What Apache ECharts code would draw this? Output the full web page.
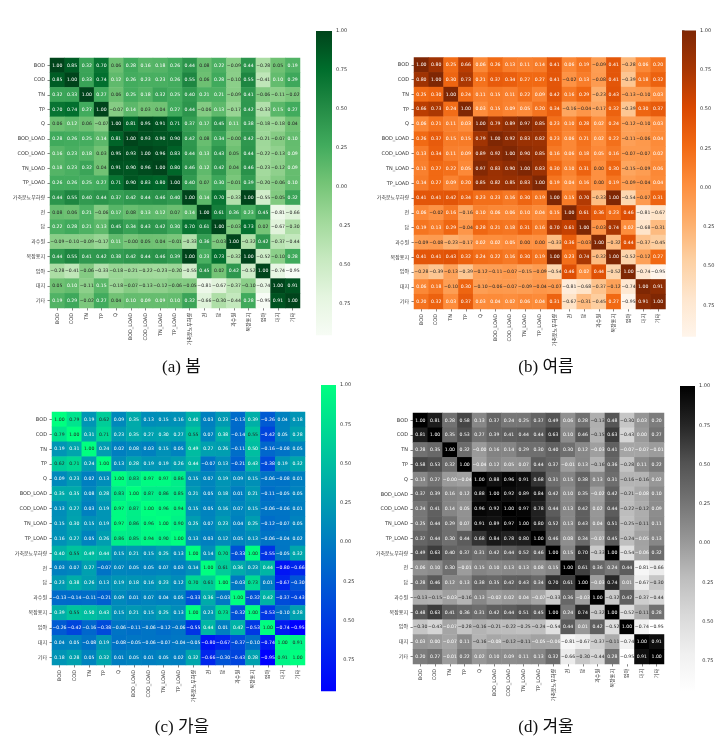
<!DOCTYPE html>
<html>
<head>
<meta charset="utf-8">
<style>html,body{margin:0;padding:0;background:#fff}#c{width:728px;height:747px}</style>
<script src="https://cdn.jsdelivr.net/npm/echarts@6/dist/echarts.min.js"></script>
</head>
<body>
<div id="c"></div>
<script>
const categories = ['BOD','COD','TN','TP','Q','BOD_LOAD','COD_LOAD','TN_LOAD','TP_LOAD','가축분뇨부하량','전','답','과수원','목장용지','임야','대지','기타'];
const colorbarTicks = ['−0.75','−0.50','−0.25','0.00','0.25','0.50','0.75','1.00'];
const captions = ['(a) 봄','(b) 여름','(c) 가을','(d) 겨울'];
const spring = [
[1.00,.85,.32,.70,.06,.28,.16,.18,.26,.44,.08,.22,-.09,.44,-.28,.05,.19],
[.85,1.00,.33,.74,.12,.26,.23,.23,.26,.55,.06,.28,-.10,.55,-.41,.10,.29],
[.32,.33,1.00,.27,.06,.25,.18,.32,.25,.40,.21,.21,-.09,.41,-.06,-.11,-.02],
[.70,.74,.27,1.00,-.07,.14,.03,.04,.27,.44,-.06,.13,-.17,.42,-.33,.15,.27],
[.06,.12,.06,-.07,1.00,.81,.95,.91,.71,.37,.17,.45,.11,.38,-.18,-.18,.04],
[.28,.26,.25,.14,.81,1.00,.93,.90,.90,.42,.08,.34,-0.00,.42,-.21,-.07,.10],
[.16,.23,.18,.03,.95,.93,1.00,.96,.83,.44,.13,.43,.05,.44,-.22,-.13,.09],
[.18,.23,.32,.04,.91,.90,.96,1.00,.80,.46,.12,.42,.04,.46,-.23,-.12,.09],
[.26,.26,.25,.27,.71,.90,.83,.80,1.00,.40,.07,.30,-.01,.39,-.20,-.06,.10],
[.44,.55,.40,.44,.37,.42,.44,.46,.40,1.00,.14,.70,-.33,1.00,-.55,-.05,.32],
[.08,.06,.21,-.06,.17,.08,.13,.12,.07,.14,1.00,.61,.36,.23,.45,-.81,-.66],
[.22,.28,.21,.13,.45,.34,.43,.42,.30,.70,.61,1.00,-.03,.73,.02,-.67,-.30],
[-.09,-.10,-.09,-.17,.11,-0.00,.05,.04,-.01,-.33,.36,-.03,1.00,-.32,.42,-.37,-.44],
[.44,.55,.41,.42,.38,.42,.44,.46,.39,1.00,.23,.73,-.32,1.00,-.52,-.10,.28],
[-.28,-.41,-.06,-.33,-.18,-.21,-.22,-.23,-.20,-.55,.45,.02,.42,-.52,1.00,-.74,-.95],
[.05,.10,-.11,.15,-.18,-.07,-.13,-.12,-.06,-.05,-.81,-.67,-.37,-.10,-.74,1.00,.91],
[.19,.29,-.02,.27,.04,.10,.09,.09,.10,.32,-.66,-.30,-.44,.28,-.95,.91,1.00]
];
const summer = [
[1.00,.80,.25,.66,.06,.26,.13,.11,.14,.41,.06,.19,-.09,.41,-.28,.06,.20],
[.80,1.00,.30,.73,.21,.37,.34,.27,.27,.41,-.02,.13,-.08,.41,-.39,.18,.32],
[.25,.30,1.00,.24,.11,.15,.11,.22,.09,.42,.16,.29,-.23,.43,-.13,-.10,.03],
[.66,.73,.24,1.00,.03,.15,.09,.05,.20,.34,-.16,-.04,-.17,.32,-.39,.30,.37],
[.06,.21,.11,.03,1.00,.79,.89,.97,.85,.23,.10,.28,.02,.24,-.12,-.10,.03],
[.26,.37,.15,.15,.79,1.00,.92,.83,.82,.23,.06,.21,.02,.22,-.11,-.06,.04],
[.13,.34,.11,.09,.89,.92,1.00,.90,.85,.16,.06,.18,.05,.16,-.07,-.07,.02],
[.11,.27,.22,.05,.97,.83,.90,1.00,.83,.30,.10,.31,.00,.30,-.15,-.09,.06],
[.14,.27,.09,.20,.85,.82,.85,.83,1.00,.19,.04,.16,.00,.19,-.09,-.04,.04],
[.41,.41,.42,.34,.23,.23,.16,.30,.19,1.00,.15,.70,-.33,1.00,-.54,-.07,.31],
[.06,-.02,.16,-.16,.10,.06,.06,.10,.04,.15,1.00,.61,.36,.23,.46,-.81,-.67],
[.19,.13,.29,-.04,.28,.21,.18,.31,.16,.70,.61,1.00,-.03,.74,.02,-.68,-.31],
[-.09,-.08,-.23,-.17,.02,.02,.05,.00,.00,-.33,.36,-.03,1.00,-.32,.44,-.37,-.45],
[.41,.41,.43,.32,.24,.22,.16,.30,.19,1.00,.23,.74,-.32,1.00,-.52,-.12,.27],
[-.28,-.39,-.13,-.39,-.12,-.11,-.07,-.15,-.09,-.54,.46,.02,.44,-.52,1.00,-.74,-.95],
[.06,.18,-.10,.30,-.10,-.06,-.07,-.09,-.04,-.07,-.81,-.68,-.37,-.12,-.74,1.00,.91],
[.20,.32,.03,.37,.03,.04,.02,.06,.04,.31,-.67,-.31,-.45,.27,-.95,.91,1.00]
];
const autumn = [
[1.00,.79,.19,.62,.09,.35,.13,.15,.16,.40,.03,.23,-.13,.39,-.26,.04,.18],
[.79,1.00,.31,.71,.23,.35,.27,.30,.27,.55,.07,.38,-.14,.55,-.42,.05,.28],
[.19,.31,1.00,.24,.02,.08,.03,.15,.05,.49,.27,.26,-.11,.50,-.16,-.08,.05],
[.62,.71,.24,1.00,.13,.28,.19,.19,.26,.44,-.07,.13,-.21,.43,-.38,.19,.32],
[.09,.23,.02,.13,1.00,.83,.97,.97,.86,.15,.07,.19,.09,.15,-.06,-.08,.01],
[.35,.35,.08,.28,.83,1.00,.87,.86,.85,.21,.05,.18,.01,.21,-.11,-.05,.05],
[.13,.27,.03,.19,.97,.87,1.00,.96,.94,.15,.05,.16,.07,.15,-.06,-.06,.01],
[.15,.30,.15,.19,.97,.86,.96,1.00,.90,.25,.07,.23,.04,.25,-.12,-.07,.05],
[.16,.27,.05,.26,.86,.85,.94,.90,1.00,.13,.03,.12,.05,.13,-.06,-.04,.02],
[.40,.55,.49,.44,.15,.21,.15,.25,.13,1.00,.14,.70,-.33,1.00,-.55,-.05,.32],
[.03,.07,.27,-.07,.07,.05,.05,.07,.03,.14,1.00,.61,.36,.23,.44,-.80,-.66],
[.23,.38,.26,.13,.19,.18,.16,.23,.12,.70,.61,1.00,-.03,.73,.01,-.67,-.30],
[-.13,-.14,-.11,-.21,.09,.01,.07,.04,.05,-.33,.36,-.03,1.00,-.32,.42,-.37,-.43],
[.39,.55,.50,.43,.15,.21,.15,.25,.13,1.00,.23,.73,-.32,1.00,-.53,-.10,.28],
[-.26,-.42,-.16,-.38,-.06,-.11,-.06,-.12,-.06,-.55,.44,.01,.42,-.53,1.00,-.74,-.95],
[.04,.05,-.08,.19,-.08,-.05,-.06,-.07,-.04,-.05,-.80,-.67,-.37,-.10,-.74,1.00,.91],
[.18,.28,.05,.32,.01,.05,.01,.05,.02,.32,-.66,-.30,-.43,.28,-.95,.91,1.00]
];
const winter = [
[1.00,.81,.28,.58,.13,.37,.24,.25,.37,.49,.06,.28,-.13,.48,-.30,.03,.20],
[.81,1.00,.35,.53,.27,.39,.41,.44,.44,.63,.10,.46,-.15,.63,-.43,.00,.27],
[.28,.35,1.00,.32,-0.00,.16,.14,.29,.30,.40,.30,.12,-.03,.41,-.07,-.07,-.01],
[.58,.53,.32,1.00,-.04,.12,.05,.07,.44,.37,-.01,.13,-.16,.36,-.28,.11,.22],
[.13,.27,-0.00,-.04,1.00,.88,.96,.91,.68,.31,.15,.38,.13,.31,-.16,-.16,.02],
[.37,.39,.16,.12,.88,1.00,.92,.89,.84,.42,.10,.35,-.02,.42,-.21,-.08,.10],
[.24,.41,.14,.05,.96,.92,1.00,.97,.78,.44,.13,.42,.02,.44,-.22,-.12,.09],
[.25,.44,.29,.07,.91,.89,.97,1.00,.80,.52,.13,.43,.04,.51,-.25,-.11,.11],
[.37,.44,.30,.44,.68,.84,.78,.80,1.00,.46,.08,.34,-.07,.45,-.24,-.05,.13],
[.49,.63,.40,.37,.31,.42,.44,.52,.46,1.00,.15,.70,-.33,1.00,-.54,-.06,.32],
[.06,.10,.30,-.01,.15,.10,.13,.13,.08,.15,1.00,.61,.36,.24,.44,-.81,-.66],
[.28,.46,.12,.13,.38,.35,.42,.43,.34,.70,.61,1.00,-.03,.74,.01,-.67,-.30],
[-.13,-.15,-.03,-.16,.13,-.02,.02,.04,-.07,-.33,.36,-.03,1.00,-.32,.42,-.37,-.44],
[.48,.63,.41,.36,.31,.42,.44,.51,.45,1.00,.24,.74,-.32,1.00,-.52,-.11,.28],
[-.30,-.43,-.07,-.28,-.16,-.21,-.22,-.25,-.24,-.54,.44,.01,.42,-.52,1.00,-.74,-.95],
[.03,.00,-.07,.11,-.16,-.08,-.12,-.11,-.05,-.06,-.81,-.67,-.37,-.11,-.74,1.00,.91],
[.20,.27,-.01,.22,.02,.10,.09,.11,.13,.32,-.66,-.30,-.44,.28,-.95,.91,1.00]
];

const VMIN = -0.95, VMAX = 1;
const FONT = '"DejaVu Sans","Noto Sans CJK KR",sans-serif';
const ramps = {
  greens: ['#f7fcf5','#e5f5e0','#c7e9c0','#a1d99b','#74c476','#41ab5d','#238b45','#006d2c','#00441b'],
  oranges:['#fff5eb','#fee6ce','#fdd0a2','#fdae6b','#fd8d3c','#f16913','#d94801','#a63603','#7f2704'],
  winter: ['#0000ff','#00ff80'],
  greys:  ['#ffffff','#f0f0f0','#d9d9d9','#bdbdbd','#969696','#737373','#525252','#252525','#000000']
};
const panels = [
  {m:spring, ramp:ramps.greens,  x:50,  y:58,  s:250, cx:316, cw:16, ctop:31,  unit:156,   cap:[181.5,359]},
  {m:summer, ramp:ramps.oranges, x:414, y:57.5,s:251.5,cx:682, cw:14, ctop:30.5,unit:157,  cap:[546,359]},
  {m:autumn, ramp:ramps.winter,  x:52,  y:412, s:253, cx:321, cw:15, ctop:385, unit:157,   cap:[182,719]},
  {m:winter, ramp:ramps.greys,   x:413, y:413, s:251, cx:680, cw:15, ctop:386, unit:157,   cap:[546,719]}
];

function rgb(h){return [1,3,5].map(i=>parseInt(h.slice(i,i+2),16));}
function colorAt(ramp,v){
  const t=(v-VMIN)/(VMAX-VMIN)*(ramp.length-1), i=Math.min(Math.floor(t),ramp.length-2), f=t-i;
  const a=rgb(ramp[i]), b=rgb(ramp[i+1]);
  return a.map((c,k)=>c+(b[k]-c)*f);
}
function lum(c){
  const l=c.map(x=>{x/=255;return x<=0.03928?x/12.92:Math.pow((x+0.055)/1.055,2.4);});
  return .2126*l[0]+.7152*l[1]+.0722*l[2];
}
function fmt(v){
  const neg = v<0 || Object.is(v,-0);
  return (neg?'\u2212':'')+Math.abs(v).toFixed(2);
}

const option={animation:false,backgroundColor:'#fff',title:[],grid:[],xAxis:[],yAxis:[],visualMap:[],series:[],graphic:[]};
panels.forEach((p,k)=>{
  const gi=option.grid.length;
  option.grid.push({left:p.x,top:p.y,width:p.s,height:p.s,containLabel:false});
  const tick={show:true,length:2.5,alignWithLabel:true,lineStyle:{color:'#333',width:.6}};
  const lab={fontSize:5,color:'#333',fontFamily:FONT,interval:0,margin:5};
  option.xAxis.push({type:'category',gridIndex:gi,data:categories,axisLine:{show:false},axisTick:tick,splitLine:{show:false},axisLabel:{...lab,rotate:90}});
  option.yAxis.push({type:'category',gridIndex:gi,data:categories,inverse:true,axisLine:{show:false},axisTick:tick,splitLine:{show:false},axisLabel:lab});
  const data=[];
  p.m.forEach((row,r)=>row.forEach((v,c)=>{
    data.push({value:[c,r,v],label:{color:lum(colorAt(p.ramp,v))>.408?'#262626':'#ffffff'}});
  }));
  const si=option.series.length;
  option.series.push({type:'heatmap',xAxisIndex:gi,yAxisIndex:gi,data,silent:true,
    label:{show:true,fontSize:4.6,fontFamily:FONT,formatter:o=>fmt(o.value[2])},
    emphasis:{disabled:true},progressive:0});
  option.visualMap.push({type:'continuous',seriesIndex:si,min:VMIN,max:VMAX,show:false,inRange:{color:p.ramp}});
  // colourbar: square-cornered gradient strip in the same colour ramp
  const last=p.ramp.length-1;
  option.graphic.push({type:'rect',silent:true,z:1,
    shape:{x:p.cx,y:p.ctop,width:p.cw,height:(VMAX-VMIN)*p.unit},
    style:{fill:new echarts.graphic.LinearGradient(0,0,0,1,
      p.ramp.map((c,i)=>({offset:i/last,color:p.ramp[last-i]})))}});
  // colourbar axis: runs from the lowest labelled tick to the top of the bar
  const cg=option.grid.length;
  option.grid.push({left:p.cx,top:p.ctop,width:p.cw,height:1.75*p.unit});
  option.xAxis.push({type:'value',gridIndex:cg,show:false,min:0,max:1});
  option.yAxis.push({type:'value',gridIndex:cg,position:'right',min:-0.75,max:1,interval:.25,
    axisLine:{show:false},splitLine:{show:false},axisTick:{show:true,length:2.5,lineStyle:{color:'#333',width:.6}},
    axisLabel:{fontSize:5,color:'#333',fontFamily:FONT,margin:4,showMinLabel:true,showMaxLabel:true,
      formatter:v=>{
        const idx=Math.round((v+.75)/.25), s=colorbarTicks[idx];
        return s[0]==='\u2212' ? '\u2007'+s.slice(1) : s;
      }}});
  option.title.push({text:captions[k],left:p.cap[0],top:p.cap[1],textAlign:'center',padding:0,
    textStyle:{fontSize:17,fontWeight:'normal',color:'#111',fontFamily:'"Liberation Serif","Noto Sans CJK KR",serif'}});
});
const chart=echarts.init(document.getElementById('c'),null,{renderer:'canvas',width:728,height:747});
chart.setOption(option);
</script>
</body>
</html>
